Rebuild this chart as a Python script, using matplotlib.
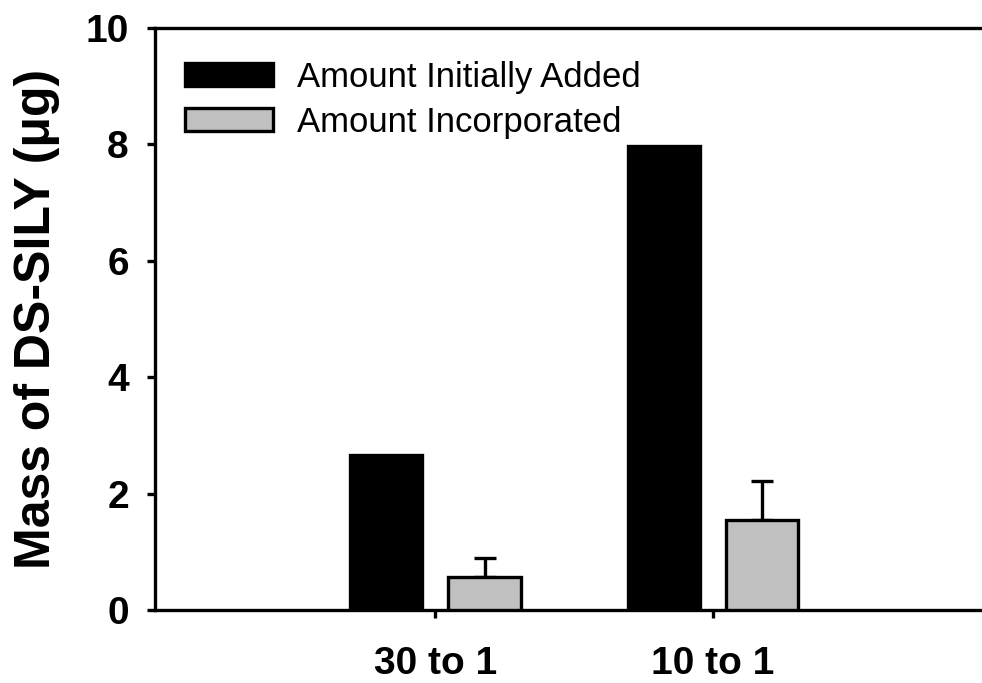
import numpy as np
import matplotlib
matplotlib.use("Agg")
import matplotlib.pyplot as plt

# values
categories = ["30 to 1", "10 to 1"]
added = [2.66, 7.97]
incorporated = [0.57, 1.55]
incorporated_err = [0.33, 0.67]
series_names = ["Amount Initially Added", "Amount Incorporated"]
yticks = [0, 2, 4, 6, 8, 10]

plt.rcParams['font.family'] = ['Liberation Sans', 'DejaVu Sans']

fig = plt.figure(figsize=(9.82, 6.83), dpi=100)
ax = fig.add_axes([0.158, 0.107, 0.842, 0.852])

x = np.arange(len(categories))
w = 0.26
lw = 2.4

ax.bar(x - 0.177, added, w, color="black", edgecolor="black", linewidth=lw,
       label=series_names[0], zorder=3)
ax.bar(x + 0.177, incorporated, w, color="#c0c0c0", edgecolor="black", linewidth=lw,
       label=series_names[1], zorder=3)
ax.errorbar(x + 0.177, incorporated, yerr=[np.zeros(len(x)), incorporated_err],
            fmt="none", ecolor="black", elinewidth=lw, capsize=8, capthick=lw, zorder=2)

ax.set_xlim(-1.01, 1.97)
ax.set_ylim(0, 10)
ax.set_yticks(yticks)
ax.set_xticks(x)
ax.set_xticklabels(categories)

for side in ["left", "top", "bottom"]:
    ax.spines[side].set_linewidth(lw)
ax.spines["right"].set_visible(False)

ax.tick_params(axis="both", direction="out", width=lw, length=6, labelsize=28)
ax.tick_params(axis="y", pad=13)
ax.tick_params(axis="x", pad=20)
for lab in ax.get_xticklabels() + ax.get_yticklabels():
    lab.set_fontweight("bold")

ax.set_ylabel("Mass of DS-SILY (μg)", fontsize=36, fontweight="bold", labelpad=18)

ax.legend(loc="upper left", bbox_to_anchor=(0.0, 0.995), frameon=False, fontsize=25,
          handlelength=2.54, handleheight=0.63, handletextpad=0.69, labelspacing=0.35,
          borderaxespad=0.46)

fig.savefig("out.png", dpi=100)
